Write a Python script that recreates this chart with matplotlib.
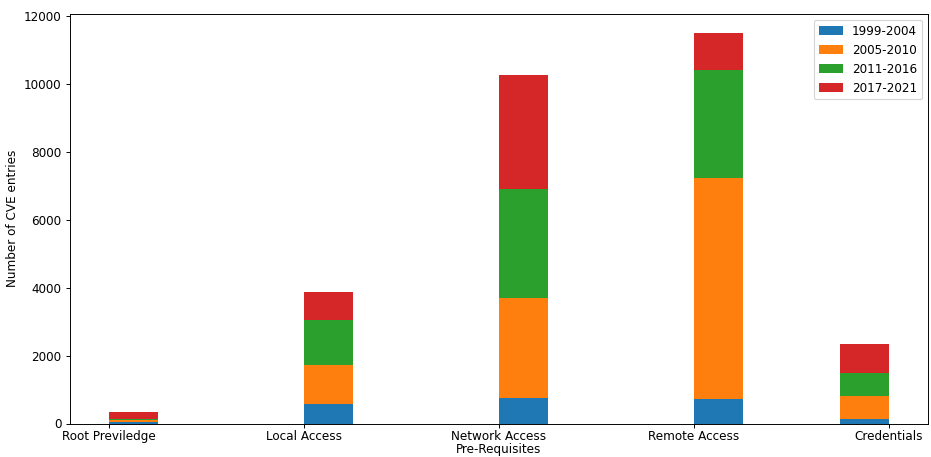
"""Stacked bar chart of CVE entries per pre-requisite, split by period."""

import matplotlib
matplotlib.use("Agg")
import matplotlib.pyplot as plt
import numpy as np

categories = ["Root Previledge", "Local Access", "Network Access", "Remote Access", "Credentials"]
periods = ["1999-2004", "2005-2010", "2011-2016", "2017-2021"]

cve_1999_2004 = [40, 560, 765, 717, 130]
cve_2005_2010 = [50, 1175, 2940, 6500, 685]
cve_2011_2016 = [50, 1305, 3190, 3195, 667]
cve_2017_2021 = [200, 825, 3360, 1070, 853]

DPI = 86
fig, ax = plt.subplots(figsize=(931 / DPI, 457 / DPI), dpi=DPI)
fig.subplots_adjust(left=70 / 931, right=928 / 931, top=1 - 14 / 457, bottom=1 - 423.5 / 457)

ticks = np.arange(len(categories))
# bars sit to the right of their tick, except the last one which ends on it
lefts = ticks.astype(float)
lefts[-1] -= 0.25

bottom = np.zeros(len(categories))
for label, vals in zip(periods, [cve_1999_2004, cve_2005_2010, cve_2011_2016, cve_2017_2021]):
    ax.bar(lefts, vals, 0.25, bottom=bottom, align="edge", label=label)
    bottom += np.array(vals)

ax.set_xticks(ticks)
ax.set_xticklabels(categories)
ax.tick_params(axis="x", pad=2)
ax.set_xlabel("Pre-Requisites", labelpad=0)
ax.set_ylabel("Number of CVE entries")
ax.legend(loc="upper right")

fig.savefig("out.png", dpi=DPI)
